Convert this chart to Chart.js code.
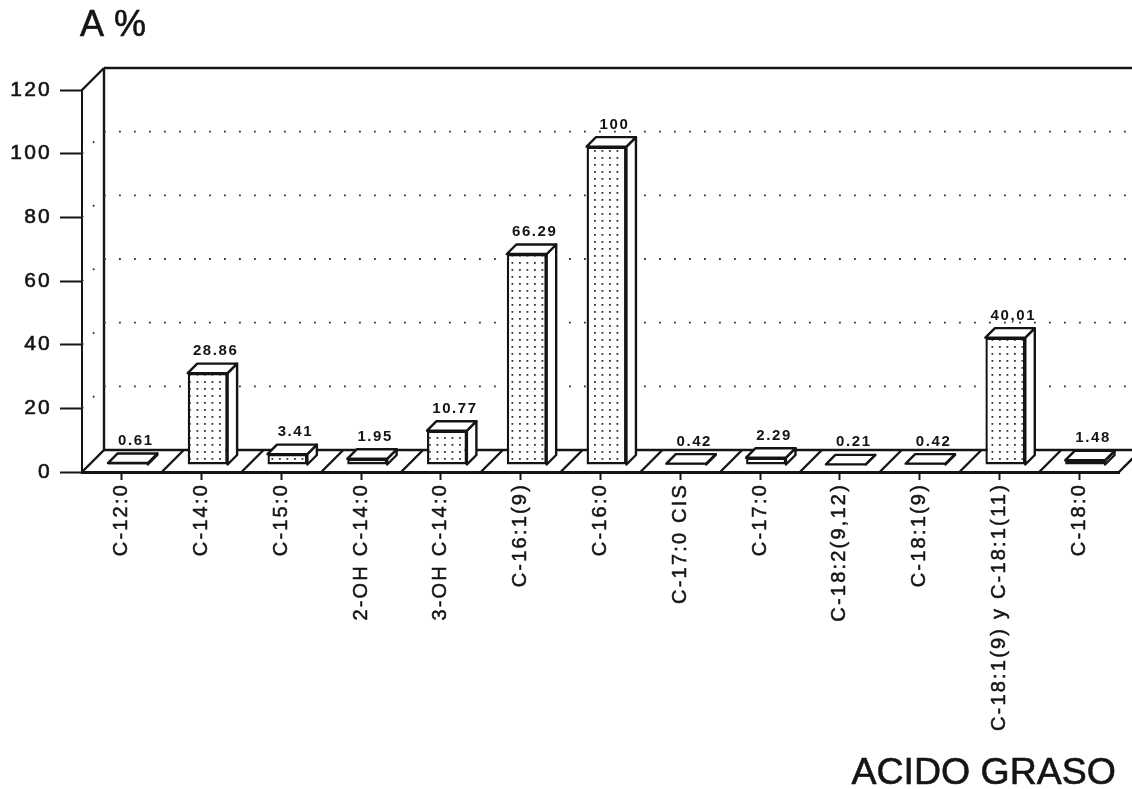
<!DOCTYPE html>
<html>
<head>
<meta charset="utf-8">
<title>Acido graso</title>
<script src="https://cdn.jsdelivr.net/npm/chart.js@4"></script>
<style>
    html, body { margin: 0; padding: 0; background: #fff; }
    canvas { display: block; }
</style>
</head>
<body>
<canvas id="mainChart" width="1132" height="789"></canvas>
<script>
const categories = ["C-12:0", "C-14:0", "C-15:0", "2-OH C-14:0", "3-OH C-14:0", "C-16:1(9)", "C-16:0",
    "C-17:0 CIS", "C-17:0", "C-18:2(9,12)", "C-18:1(9)", "C-18:1(9) y C-18:1(11)", "C-18:0"];
const values = [0.61, 28.86, 3.41, 1.95, 10.77, 66.29, 100, 0.42, 2.29, 0.21, 0.42, 40.01, 1.48];
const valueLabels = ["0.61", "28.86", "3.41", "1.95", "10.77", "66.29", "100", "0.42", "2.29", "0.21", "0.42", "40,01", "1.48"];
const yTitle = "A %";
const xTitle = "ACIDO GRASO";

const INK = "#141414";
const FONT = "'Liberation Sans', Arial, sans-serif";
const SPACING = "2.2px";
const WALL = 22;       // depth of the floor and side wall
const SHIFT_X = 6;     // bars stand back from the axis line
const SHIFT_Y = 7;
const BAR_DEPTH = 9.5;

// Dotted fill of the bars
function dotPattern() {
    const tile = document.createElement("canvas");
    tile.width = 15;
    tile.height = 14;
    const c = tile.getContext("2d");
    c.fillStyle = "#fff";
    c.fillRect(0, 0, 15, 14);
    c.fillStyle = "#333";
    [[3, 3], [10.5, 3], [3, 10], [10.5, 10]].forEach(p => c.fillRect(p[0], p[1], 1.8, 1.8));
    return c.createPattern(tile, "repeat");
}

function line(ctx, x1, y1, x2, y2) {
    ctx.beginPath();
    ctx.moveTo(x1, y1);
    ctx.lineTo(x2, y2);
    ctx.stroke();
}

function face(ctx, points) {
    ctx.beginPath();
    points.forEach((p, i) => i ? ctx.lineTo(p[0], p[1]) : ctx.moveTo(p[0], p[1]));
    ctx.closePath();
    ctx.fill();
    ctx.stroke();
}

const perspective = {
    id: "perspective",
    beforeDraw(chart) {
        chart.ctx.letterSpacing = SPACING;
    },
    beforeDatasetsDraw(chart) {
        const ctx = chart.ctx;
        const area = chart.chartArea;
        const x = chart.scales.x;
        const y = chart.scales.y;
        const step = x.getPixelForValue(1) - x.getPixelForValue(0);
        const edge = chart.width + WALL;

        ctx.save();
        ctx.strokeStyle = INK;
        ctx.lineWidth = 2.4;

        // Back wall and floor
        line(ctx, area.left + WALL, area.top - WALL, area.left + WALL, area.bottom - WALL);
        line(ctx, area.left, area.top, area.left + WALL, area.top - WALL);
        line(ctx, area.left + WALL, area.top - WALL, edge, area.top - WALL);
        line(ctx, area.left + WALL, area.bottom - WALL, edge, area.bottom - WALL);
        categories.forEach((c, i) => {
            const left = x.getPixelForValue(i) - step / 2;
            line(ctx, left, area.bottom, left + WALL, area.bottom - WALL);
        });
        line(ctx, area.right, area.bottom, area.right + WALL, area.bottom - WALL);

        // Dotted grid on the walls
        ctx.lineWidth = 1.8;
        ctx.strokeStyle = "#333";
        y.ticks.forEach(tick => {
            if (tick.value === 0 || tick.value === y.max) return;
            const py = y.getPixelForValue(tick.value);
            ctx.setLineDash([1.8, 13.2]);
            line(ctx, area.left + WALL, py - WALL, edge, py - WALL);
            ctx.setLineDash([1.8, 13.8]);
            line(ctx, area.left, py, area.left + WALL, py - WALL);
        });
        ctx.setLineDash([]);
        ctx.restore();

        // Side and top of every bar, then the library draws the front over them
        ctx.save();
        ctx.translate(SHIFT_X, -SHIFT_Y);
        ctx.fillStyle = "#fff";
        ctx.strokeStyle = INK;
        ctx.lineWidth = 2.4;
        ctx.lineJoin = "round";
        chart.getDatasetMeta(0).data.forEach(bar => {
            const l = bar.x - bar.width / 2;
            const r = bar.x + bar.width / 2;
            const d = BAR_DEPTH;
            face(ctx, [[r, bar.base], [r + d, bar.base - d], [r + d, bar.y - d], [r, bar.y]]);
            face(ctx, [[l, bar.y], [l + d, bar.y - d], [r + d, bar.y - d], [r, bar.y]]);
        });
        ctx.restore();

        ctx.save();
        ctx.translate(SHIFT_X, -SHIFT_Y);
    },
    afterDatasetsDraw(chart) {
        const ctx = chart.ctx;
        ctx.restore();

        // Value above each bar
        ctx.save();
        ctx.fillStyle = INK;
        ctx.textAlign = "center";
        ctx.textBaseline = "middle";
        ctx.font = "bold 15px " + FONT;
        ctx.letterSpacing = "1.6px";
        chart.getDatasetMeta(0).data.forEach((bar, i) => {
            ctx.fillText(valueLabels[i], bar.x + 14, bar.y - 29);
        });
        ctx.restore();
    },
    afterDraw(chart) {
        // Axis names
        const ctx = chart.ctx;
        ctx.save();
        ctx.letterSpacing = "0px";
        ctx.fillStyle = INK;
        ctx.strokeStyle = INK;
        ctx.lineWidth = 0.6;
        ctx.textBaseline = "alphabetic";
        ctx.font = "36px " + FONT;
        ctx.textAlign = "left";
        ctx.fillText(yTitle, 80, 36);
        ctx.strokeText(yTitle, 80, 36);
        ctx.font = "37.5px " + FONT;
        ctx.textAlign = "right";
        ctx.fillText(xTitle, 1116, 784);
        ctx.strokeText(xTitle, 1116, 784);
        ctx.restore();
    }
};

new Chart(document.getElementById("mainChart").getContext("2d"), {
    type: "bar",
    data: {
        labels: categories,
        datasets: [{
            data: values,
            backgroundColor: dotPattern(),
            borderColor: INK,
            borderWidth: 2.4,
            borderSkipped: false,
            barPercentage: 0.5,
            categoryPercentage: 1,
            clip: false
        }]
    },
    options: {
        responsive: false,
        animation: false,
        events: [],
        layout: { padding: { top: 90, right: 13, left: 0, bottom: 0 } },
        plugins: { legend: { display: false }, title: { display: false }, tooltip: { enabled: false } },
        scales: {
            x: {
                afterFit(scale) { scale.height = 317; },
                grid: { offset: false, drawOnChartArea: false, tickLength: 8, tickWidth: 2, tickColor: INK },
                border: { color: INK, width: 3 },
                ticks: {
                    autoSkip: false, minRotation: 90, maxRotation: 90, padding: 3,
                    color: INK, textStrokeColor: INK, textStrokeWidth: 0.5,
                    font: { family: FONT, size: 20 }
                }
            },
            y: {
                min: 0,
                max: 120,
                afterFit(scale) { scale.width = 82; },
                grid: { drawOnChartArea: false, tickLength: 22, tickWidth: 2, tickColor: INK },
                border: { color: INK, width: 2 },
                ticks: {
                    stepSize: 20, padding: 8,
                    color: INK, textStrokeColor: INK, textStrokeWidth: 0.6,
                    font: { family: FONT, size: 21 }
                }
            }
        }
    },
    plugins: [perspective]
});
</script>
</body>
</html>
